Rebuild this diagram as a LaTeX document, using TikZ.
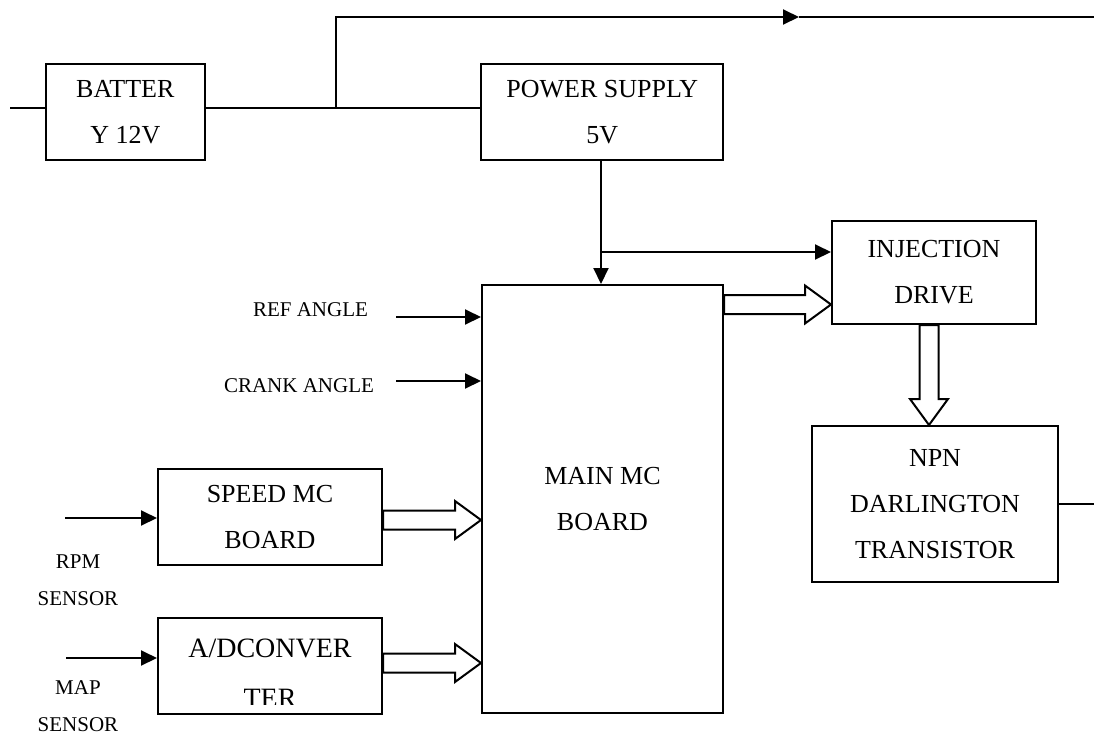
\documentclass[tikz,border=0pt]{standalone}
\usepackage{fontspec}
\setmainfont{Liberation Serif}
\usetikzlibrary{arrows.meta,calc}
\begin{document}
\begin{tikzpicture}[x=0.5pt,y=-0.5pt,line width=1pt,>={Triangle[length=8pt,width=7.5pt]},
	box/.style={draw,inner sep=0pt,align=center,font=\fontsize{13}{23}\selectfont},
	lbl/.style={inner sep=0pt,align=center,font=\fontsize{10.5}{18.5}\selectfont},
	hollow/.style={draw,fill=white,line join=miter}]
	\newcommand\fatarrow[2]{%
		\coordinate (fa) at (#1);
		\coordinate (fb) at (#2);
		\coordinate (fc) at ($(fb)!13pt!(fa)$);
		\path[hollow] ($(fa)!4.75pt!90:(fb)$) -- ($(fc)!4.75pt!90:(fb)$) -- ($(fc)!9.5pt!90:(fb)$) -- (fb)
			-- ($(fc)!9.5pt!-90:(fb)$) -- ($(fc)!4.75pt!-90:(fb)$) -- ($(fa)!4.75pt!-90:(fb)$) -- cycle;}
	\useasboundingbox (0,0) rectangle (1094,735);
	% blocks
	\node[box,minimum width=79.7pt,minimum height=48pt] (batt) at (125.3,112) {BATTER\\Y 12V};
	\node[box,minimum width=121pt,minimum height=48pt] (psu) at (602.3,112) {POWER SUPPLY\\5V};
	\node[box,minimum width=120.5pt,minimum height=214pt] (main) at (602.5,499) {MAIN MC\\BOARD};
	\node[box,minimum width=102pt,minimum height=51.5pt] (inj) at (934,272.5) {INJECTION\\DRIVE};
	\node[box,minimum width=123pt,minimum height=78pt] (npn) at (935,504) {NPN\\DARLINGTON\\TRANSISTOR};
	\node[box,minimum width=112pt,minimum height=48pt] (speed) at (270,517) {SPEED MC\\BOARD};
	\node[box,minimum width=112pt,minimum height=48pt] (adc) at (270,666) {};
	\begin{scope}
		\clip (adc.north west) rectangle ([yshift=5.5pt]adc.south east);
		\node[box,draw=none,font=\fontsize{14}{25}\selectfont] (adctxt) at ([yshift=-3.5pt]adc.center) {A/DCONVER\\TER};
	\end{scope}
	% battery line
	\coordinate (bin) at (10,108);
	\coordinate (split) at (336,108);
	\coordinate (mark) at (799,17);
	\coordinate (topend) at (1094,17);
	\draw (bin) -- ([yshift=2pt]batt.west);
	\draw ([yshift=2pt]batt.east) -- ([yshift=2pt]psu.west);
	\draw[->] (split) |- (mark);
	\draw[line width=0.65pt] (mark) -- (topend);
	% 5V supply
	\coordinate (tap) at (601,252);
	\draw[->] (psu.south -| tap) -- (main.north -| tap);
	\draw[->] (tap) -- (tap -| inj.west);
	% inputs
	\coordinate (ref) at (396,317);
	\coordinate (crank) at (396,381);
	\coordinate (rpm) at (65,518);
	\coordinate (map) at (66,658);
	\draw[->] (ref) -- (ref -| main.west);
	\draw[->] (crank) -- (crank -| main.west);
	\draw[->] (rpm) -- (rpm -| speed.west);
	\draw[->] (map) -- (map -| adc.west);
	\node[lbl,anchor=base] (reflbl) at (310.5,316) {REF ANGLE};
	\node[lbl,anchor=base] (cranklbl) at (299,392) {CRANK ANGLE};
	\node[lbl] (rpmlbl) at (78,580) {RPM\\SENSOR};
	\node[lbl] (maplbl) at (78,706) {MAP\\SENSOR};
	% output
	\coordinate (npnout) at (1094,504);
	\draw (npn.east) -- (npnout);
	% data buses
	\coordinate (drvin) at ([yshift=-16pt]inj.west);
	\coordinate (spdout) at ([yshift=-1.5pt]speed.east);
	\coordinate (adcout) at ([yshift=1.5pt]adc.east);
	\coordinate (injout) at ([xshift=-2.5pt]inj.south);
	\fatarrow{main.east |- drvin}{drvin}
	\fatarrow{spdout}{spdout -| main.west}
	\fatarrow{adcout}{adcout -| main.west}
	\fatarrow{injout}{injout |- npn.north}
\end{tikzpicture}
\end{document}
